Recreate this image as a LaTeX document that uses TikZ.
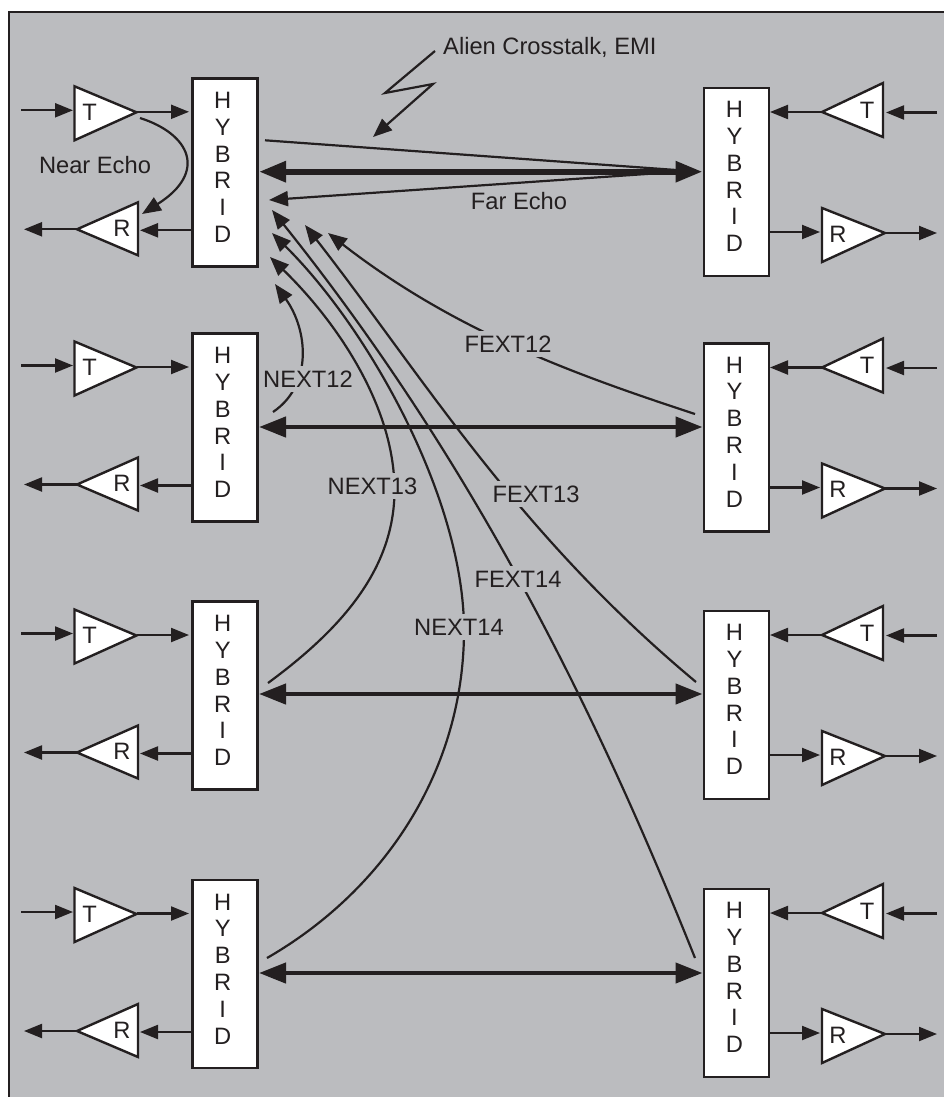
\documentclass[tikz,border=0pt]{standalone}
\usepackage{fontspec}
\setmainfont{Liberation Sans}
\usetikzlibrary{arrows.meta,calc}
\definecolor{panel}{HTML}{BBBCBF}
\definecolor{ink}{HTML}{231F20}
\tikzset{
  every node/.style={text=ink,font=\fontsize{23.7}{26.8}\selectfont},
  framebox/.style={draw=ink,line width=2.4pt},
  hybridbox/.style={draw=ink,fill=white,line width=2.5pt,minimum width=65pt,minimum height=188pt,inner sep=0pt,outer sep=0pt,anchor=north west},
  hybridtext/.style={align=center,inner sep=0pt},
  amp/.style={draw=ink,fill=white,line width=2.4pt,line join=miter},
  amplabel/.style={inner sep=0pt},
  wire/.style={draw=ink,line width=2.2pt,-{Triangle[length=18pt,width=14pt]}},
  link/.style={draw=ink,line width=4.4pt,{Triangle[length=27pt,width=20pt]}-{Triangle[length=27pt,width=20pt]},shorten <=1.5pt,shorten >=1.5pt},
  mainlink/.style={link,line width=6pt},
  curve/.style={draw=ink,line width=2.2pt},
  curvetip/.style={curve,{Triangle[length=19pt,width=15pt]}-},
  xtalk/.style={fill=panel,inner xsep=1pt,inner ysep=5pt},
  plain/.style={inner sep=0pt}
}
\begin{document}
\begin{tikzpicture}[x=1pt,y=-1pt]
\useasboundingbox (0,0) rectangle (944,1097);
\fill[white] (0,0) rectangle (944,1097);
\fill[panel] (9,12) rectangle (944,1097);
\draw[framebox] (944,12) -- (9,12) -- (9,1097);

\foreach \i/\lt/\rt/\ym in {1/78.3/88/171.7, 2/333.5/343.5/427, 3/601.5/611/694, 4/880/889/973}{
  % left side
  \node[hybridbox] (hL\i) at (192.5,\lt) {};
  \node[hybridtext] (tL\i) at (222.7,{\lt+89}) {H\\Y\\B\\R\\I\\D};
  \coordinate (Ta\i) at (74.5,{\lt+8});
  \coordinate (Tb\i) at (74.5,{\lt+62});
  \coordinate (Tc\i) at (136.5,{\lt+34});
  \draw[amp] (Ta\i) -- (Tb\i) -- (Tc\i) -- cycle;
  \node[amplabel] (TL\i) at (89.5,{\lt+34}) {T};
  \coordinate (Ra\i) at (138,{\lt+124});
  \coordinate (Rb\i) at (138,{\lt+177});
  \coordinate (Rc\i) at (77,{\lt+151});
  \draw[amp] (Ra\i) -- (Rb\i) -- (Rc\i) -- cycle;
  \node[amplabel] (RL\i) at (122,{\lt+150}) {R};
  \coordinate (inL\i) at (21,{\lt+32});
  \coordinate (inLe\i) at (73,{\lt+32});
  \coordinate (outLs\i) at (137,{\lt+33.5});
  \coordinate (outLe\i) at (189,{\lt+33.5});
  \coordinate (rxLs\i) at (192,{\lt+152});
  \coordinate (rxLe\i) at (140,{\lt+152});
  \coordinate (roLe\i) at (24,{\lt+151});
  \draw[wire] (inL\i) -- (inLe\i);
  \draw[wire] (outLs\i) -- (outLe\i);
  \draw[wire] (rxLs\i) -- (rxLe\i);
  \draw[wire] (Rc\i) -- (roLe\i);
  % right side
  \node[hybridbox] (hR\i) at (704,\rt) {};
  \node[hybridtext] (tR\i) at (734.5,{\rt+88.5}) {H\\Y\\B\\R\\I\\D};
  \coordinate (Sa\i) at (883,{\rt-5});
  \coordinate (Sb\i) at (883,{\rt+49});
  \coordinate (Sc\i) at (822,{\rt+24});
  \draw[amp] (Sa\i) -- (Sb\i) -- (Sc\i) -- cycle;
  \node[amplabel] (TR\i) at (867,{\rt+22}) {T};
  \coordinate (Qa\i) at (822,{\rt+120});
  \coordinate (Qb\i) at (822,{\rt+174});
  \coordinate (Qc\i) at (885,{\rt+145});
  \draw[amp] (Qa\i) -- (Qb\i) -- (Qc\i) -- cycle;
  \node[amplabel] (RR\i) at (838,{\rt+146}) {R};
  \coordinate (inR\i) at (937,{\rt+24.5});
  \coordinate (inRe\i) at (886,{\rt+24.5});
  \coordinate (outRe\i) at (770,{\rt+24});
  \coordinate (rxRs\i) at (769,{\rt+144});
  \coordinate (rxRe\i) at (820,{\rt+144});
  \coordinate (roRe\i) at (937,{\rt+145});
  \draw[wire] (inR\i) -- (inRe\i);
  \draw[wire] (Sc\i) -- (outRe\i);
  \draw[wire] (rxRs\i) -- (rxRe\i);
  \draw[wire] (Qc\i) -- (roRe\i);
  % pair link
  \coordinate (my\i) at (480,\ym);
}
\draw[mainlink] (hL1.east |- my1) -- (hR1.west |- my1);
\draw[link] (hL2.east |- my2) -- (hR2.west |- my2);
\draw[link] (hL3.east |- my3) -- (hR3.west |- my3);
\draw[link] (hL4.east |- my4) -- (hR4.west |- my4);

% near echo
\coordinate (neS) at (140,118);
\coordinate (neE) at (142,214);
\draw[curve,-{Triangle[length=19pt,width=15pt]}] (neS) .. controls (190,134) and (208,172) .. (neE);
\node[plain] (nearecho) at (95,165) {Near Echo};

% far echo and forward leak
\coordinate (merge) at (690,171);
\coordinate (fwdS) at (265,140.3);
\coordinate (farE) at (269,200);
\draw[curve] (fwdS) -- (merge);
\draw[curve,-{Triangle[length=19pt,width=15pt]}] (merge) -- (farE);
\node[plain] (farecho) at (519,201) {Far Echo};

% alien crosstalk
\node[plain,anchor=west] (alien) at (443,47) {Alien Crosstalk, EMI};
\coordinate (zz1) at (435,51);
\coordinate (zz2) at (385,93);
\coordinate (zz3) at (433,84);
\coordinate (zz4) at (373,137);
\draw[curve,line join=miter,-{Triangle[length=19pt,width=15pt]}] (zz1) -- (zz2) -- (zz3) -- (zz4);

% crosstalk curves
\coordinate (n12t) at (275,284);
\coordinate (n12s) at (273,412);
\coordinate (n13t) at (270,257);
\coordinate (n13m) at (394.5,490);
\coordinate (n13s) at (268,683);
\coordinate (n14t) at (272,233);
\coordinate (n14m) at (464,630);
\coordinate (n14s) at (267,958);
\coordinate (f12t) at (328,233);
\coordinate (f12s) at (695,414);
\coordinate (f13t) at (305,225);
\coordinate (f13s) at (696,682);
\coordinate (f14t) at (272,210);
\coordinate (f14s) at (695,958);
\draw[curvetip] (n12t) .. controls (308,330) and (313,385) .. (n12s);
\draw[curvetip] (n13t) .. controls (335,320) and (394.5,405) .. (n13m) .. controls (394.5,570) and (340,630) .. (n13s);
\draw[curvetip] (n14t) .. controls (370,330) and (464,500) .. (n14m) .. controls (464,770) and (385,890) .. (n14s);
\draw[curvetip] (f12t) .. controls (453,330) and (570,373) .. (f12s);
\draw[curvetip] (f13t) .. controls (422,375) and (516,532) .. (f13s);
\draw[curvetip] (f14t) .. controls (472,460) and (595,708) .. (f14s);

\node[xtalk] (lN12) at (308,379) {NEXT12};
\node[xtalk] (lN13) at (372.5,486) {NEXT13};
\node[xtalk] (lN14) at (459,627) {NEXT14};
\node[xtalk] (lF12) at (508,344) {FEXT12};
\node[xtalk] (lF13) at (536,494) {FEXT13};
\node[xtalk] (lF14) at (518,579) {FEXT14};
\end{tikzpicture}
\end{document}
